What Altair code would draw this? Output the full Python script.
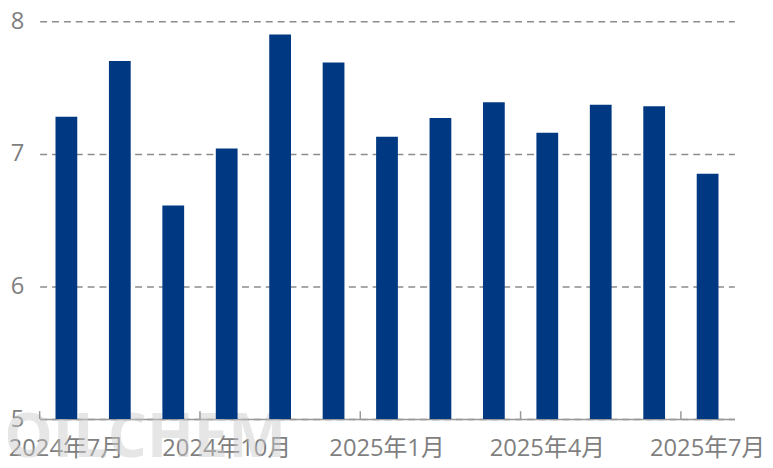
import altair as alt
import pandas as pd

months = ["2024年7月", "2024年8月", "2024年9月", "2024年10月", "2024年11月", "2024年12月",
          "2025年1月", "2025年2月", "2025年3月", "2025年4月", "2025年5月", "2025年6月", "2025年7月"]
values = [7.28, 7.70, 6.61, 7.04, 7.90, 7.69, 7.13, 7.27, 7.39, 7.16, 7.37, 7.36, 6.85]
label_months = ["2024年7月", "2024年10月", "2025年1月", "2025年4月", "2025年7月"]
y_ticks = [5, 6, 7, 8]
y_base = 5

FONT = "Open Sans, Noto Sans CJK SC, sans-serif"
GRAY = "#7f7f7f"

df = pd.DataFrame({"month": months, "value": values})
tick_df = pd.DataFrame({"month": label_months})

xscale = alt.Scale(domain=months, paddingInner=0, paddingOuter=0)

bars = alt.Chart(df).mark_bar(size=22, color="#003882").encode(
    x=alt.X("month:N", scale=xscale, sort=months,
            axis=alt.Axis(values=label_months, title=None, labelAngle=0, ticks=False,
                          domain=True, domainColor="#999999", domainWidth=1.5,
                          labelFont=FONT, labelFontSize=24, labelColor=GRAY,
                          labelPadding=18, grid=False)),
    y=alt.Y("value:Q", scale=alt.Scale(domain=[5, 8], nice=False, zero=False),
            axis=alt.Axis(values=y_ticks, title=None, ticks=False, domain=False,
                          grid=True, gridColor="#8c8c8c", gridDash=[7, 5], gridWidth=1.5,
                          labelFont=FONT, labelFontSize=24, labelColor=GRAY,
                          labelPadding=16)),
    y2=alt.datum(y_base),
)

ticks = alt.Chart(tick_df).mark_rule(color="#999999", strokeWidth=1.5).encode(
    x=alt.X("month:N", scale=xscale, sort=months, bandPosition=0),
    y=alt.value(402),
    y2=alt.value(394),
)

watermark = alt.Chart(pd.DataFrame({"t": ["OILCHEM"]})).mark_text(
    fontSize=62, font="Open Sans", fontWeight="bold", color="#c8c8c8", opacity=0.45,
    align="left", baseline="alphabetic"
).encode(text="t:N", x=alt.value(-36), y=alt.value(440))

chart = alt.layer(watermark, bars, ticks).properties(
    width=702, height=402,
    autosize=alt.AutoSizeParams(type="none"),
    padding={"left": 32, "top": 11, "right": 31, "bottom": 47},
).configure_view(stroke=None)

chart.save("out.html", embed_options={"renderer": "svg", "actions": False})
